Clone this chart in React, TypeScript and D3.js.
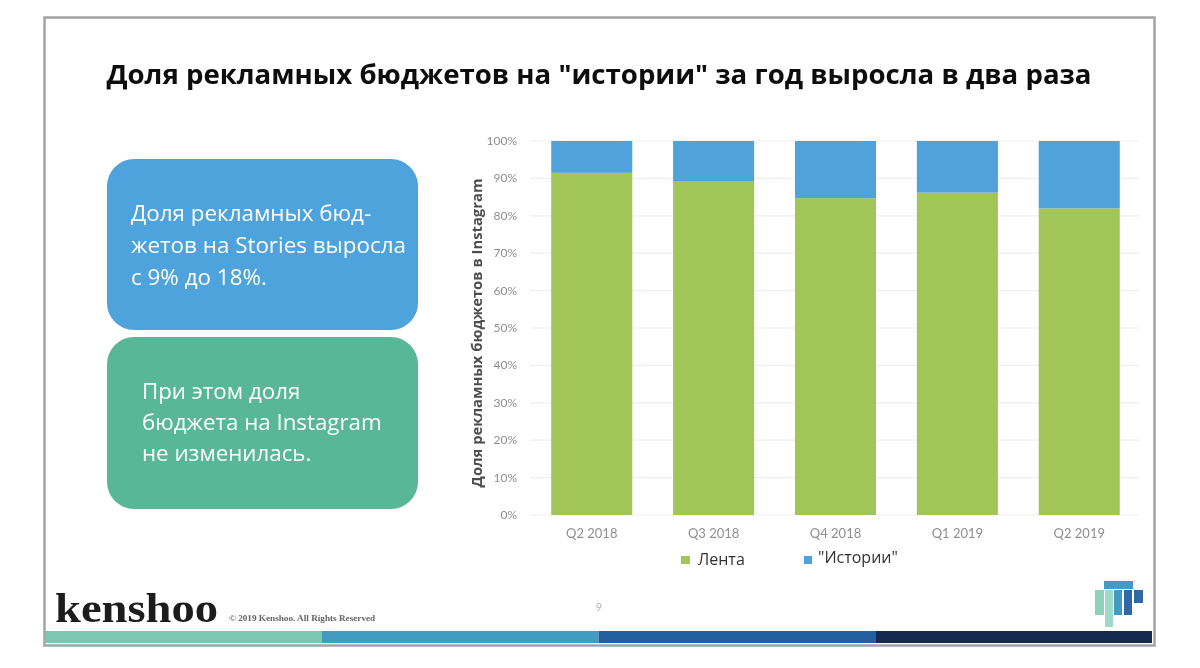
import React from "react";
import * as d3 from "d3";

const categories = ["Q2 2018", "Q3 2018", "Q4 2018", "Q1 2019", "Q2 2019"];
const feedShare = [91.5, 89.3, 84.7, 86.2, 82];
const storiesShare = [8.5, 10.7, 15.3, 13.8, 18];
const yTicks = [0, 10, 20, 30, 40, 50, 60, 70, 80, 90, 100];
const seriesNames = ["Лента", "\"Истории\""];
const seriesColors = ["#a1c557", "#4fa2da"];
const footerColors = ["#7cc7b2", "#429cc2", "#23609f", "#172c51"];
const cardOne = ["Доля рекламных бюд-", "жетов на Stories выросла", "с 9% до 18%."];
const cardTwo = ["При этом доля", "бюджета на Instagram", "не изменилась."];

const font = "Lato, 'Open Sans', sans-serif";

export default function App() {
  const x = d3.scaleBand<string>().domain(categories).range([530.5, 1140.5]).paddingInner(0.335).paddingOuter(0.17);
  const y = d3.scaleLinear().domain([0, 100]).range([515, 141]);
  const stack = categories.map((c, i) => ({ c, a: feedShare[i], b: storiesShare[i] }));
  const footX = d3.scaleLinear().domain([0, 4]).range([45, 1152]);

  return (
    <svg width={1200} height={668} viewBox="0 0 1200 668" style={{ position: "absolute", left: 0, top: 0, background: "#fff" }} fontFamily={font}>
      <defs>
        <filter id="soft" x="-5%" y="-5%" width="110%" height="110%"><feGaussianBlur stdDeviation="0.6" /></filter>
      </defs>
      <rect x={44.5} y={17.5} width={1110} height={628} fill="#fff" stroke="#a3a3a6" strokeWidth={2.5} />
      <g filter="url(#soft)">
        <text x={599} y={84} textAnchor="middle" fontSize={27.6} fontWeight={700} fontFamily="'Open Sans', sans-serif" fill="#111">
          Доля рекламных бюджетов на "истории" за год выросла в два раза
        </text>

        <rect x={107} y={159} width={311} height={171} rx={27} fill="#4fa3dc" />
        <rect x={107} y={337} width={311} height={172} rx={27} fill="#58b796" />
        {cardOne.map((t, i) => (
          <text key={t} x={131} y={221 + i * 32} fontSize={22.4} fill="#fff" fontFamily="'Open Sans', sans-serif">{t}</text>
        ))}
        {cardTwo.map((t, i) => (
          <text key={t} x={142} y={399 + i * 31} fontSize={22.3} fill="#fff" fontFamily="'Open Sans', sans-serif">{t}</text>
        ))}

        {yTicks.map((t) => (
          <g key={t}>
            <line x1={530} x2={1140} y1={y(t)} y2={y(t)} stroke="#efefef" strokeWidth={1.2} />
            <text x={517} y={y(t) + 4} textAnchor="end" fontSize={12} fill="#8f8f8f">{t}%</text>
          </g>
        ))}
        {stack.map((d) => (
          <g key={d.c}>
            <rect x={x(d.c)} y={y(d.a)} width={x.bandwidth()} height={y(0) - y(d.a)} fill={seriesColors[0]} />
            <rect x={x(d.c)} y={y(d.a + d.b)} width={x.bandwidth()} height={y(d.a) - y(d.a + d.b)} fill={seriesColors[1]} />
            <text x={x(d.c)! + x.bandwidth() / 2} y={538} textAnchor="middle" fontSize={13} fill="#8f8f8f">{d.c}</text>
          </g>
        ))}
        <text transform="translate(482,333) rotate(-90)" textAnchor="middle" fontSize={14.8} fontWeight={700} fill="#4d4d4d" fontFamily="'Open Sans', sans-serif">
          Доля рекламных бюджетов в Instagram
        </text>

        <rect x={681} y={556} width={9} height={8} fill={seriesColors[0]} />
        <text x={698} y={565} fontSize={16} fill="#333" fontFamily="'Open Sans', sans-serif">{seriesNames[0]}</text>
        <rect x={804} y={556} width={8} height={8} fill={seriesColors[1]} />
        <text x={818} y={563} fontSize={16} fill="#333" fontFamily="'Open Sans', sans-serif">{seriesNames[1]}</text>

        <text x={55} y={622} fontSize={42} fontWeight={700} fontFamily="'Liberation Serif', serif" fill="#1b1b1b" textLength={163} lengthAdjust="spacingAndGlyphs">kenshoo</text>
        <text x={229} y={621} fontSize={9.2} fontWeight={700} fontFamily="'Liberation Serif', serif" fill="#666">© 2019 Kenshoo. All Rights Reserved</text>
        <text x={599} y={611} textAnchor="middle" fontSize={11} fill="#b5b5b5">9</text>

        <rect x={1095} y={590} width={9} height={25} fill="#8fd0bb" />
        <rect x={1105} y={590} width={8} height={37} fill="#9fdac8" />
        <rect x={1114} y={590} width={8} height={25} fill="#429cc2" />
        <rect x={1104} y={581} width={29} height={8} fill="#429cc2" />
        <rect x={1124} y={590} width={8} height={25} fill="#2f67a5" />
        <rect x={1134} y={590} width={9} height={13} fill="#2f67a5" />

        {footerColors.map((c, i) => (
          <rect key={c} x={footX(i)} y={631} width={footX(i + 1) - footX(i)} height={12} fill={c} />
        ))}
      </g>
    </svg>
  );
}
